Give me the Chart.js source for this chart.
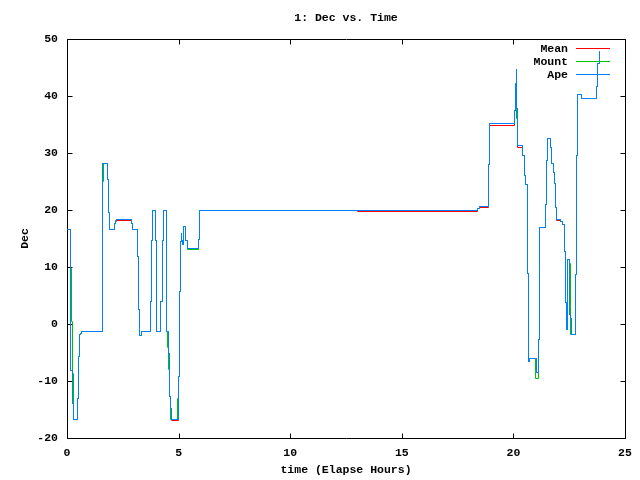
<!DOCTYPE html>
<html>
<head>
<meta charset="utf-8">
<script src="https://cdn.jsdelivr.net/npm/chart.js@4/dist/chart.umd.min.js"></script>
<style>
  html, body { margin: 0; padding: 0; background: #ffffff; }
  #c { display: block; }
</style>
</head>
<body>
<canvas id="c" width="640" height="480"></canvas>
<script>
// ---- Data (time in elapsed hours, value = new Dec after the step) ----
const chartTitle = "1: Dec vs. Time";
const xAxisLabel = "time (Elapse Hours)";
const yAxisLabel = "Dec";
const seriesNames = ["Mean", "Mount", "Ape"];
const xTicks = [0, 5, 10, 15, 20, 25];
const yTicks = [-20, -10, 0, 10, 20, 30, 40, 50];

const meanTime = [0, 0.165, 0.26, 0.3, 0.47, 0.52, 0.56, 0.6, 0.64, 1.6, 1.82, 1.87, 1.91, 2.13, 2.17, 2.2, 2.88, 2.93, 3.15, 3.2, 3.25, 3.32, 3.72, 3.78, 3.82, 3.97, 4.02, 4.2, 4.27, 4.32, 4.44, 4.46, 4.54, 4.57, 4.61, 4.64, 4.69, 4.99, 5.03, 5.08, 5.11, 5.14, 5.17, 5.23, 5.31, 5.38, 5.89, 5.95, 13.0, 18.4, 18.5, 18.88, 18.95, 20.06, 20.09, 20.12, 20.15, 20.17, 20.43, 20.48, 20.52, 20.63, 20.67, 20.71, 21.04, 21.12, 21.16, 21.19, 21.43, 21.48, 21.52, 21.68, 21.72, 21.78, 21.84, 21.88, 21.91, 22.09, 22.18, 22.3, 22.34, 22.39, 22.42, 22.5, 22.53, 22.58, 22.62, 22.79, 22.82, 22.86, 23.03, 23.73, 23.77, 23.85];
const meanDec = [16.6, -8.1, -13.9, -16.8, -13, -5.7, -1.9, -1.6, -1.35, 28.2, 25.3, 19.5, 16.6, 17.7, 17.9, 18.15, 17.7, 16.6, 11.9, 2.6, -2, -1.3, 3.9, 14.7, 20, 14.7, -1.3, 3.9, 14.7, 20, 9.3, -1.35, -5.1, -10.4, -12.75, -14.8, -16.9, -9.2, 5.7, 14.4, 15.8, 14.6, 13.9, 17.1, 14.7, 13.3, 14.9, 20, 19.75, 20.3, 20.45, 27.9, 34.75, 37.5, 42.2, 44.7, 37.8, 31.0, 29.6, 26.1, 24.4, 8.9, -6.6, -6.1, -8.5, -2.8, 10.35, 17, 20.9, 28.6, 32.6, 31, 28.1, 26.6, 24.6, 20.5, 18.15, 18, 17.5, 12.7, 3.7, -1, 11.35, 6, 1.6, 1, -1.8, 8.6, 29.6, 40.2, 39.6, 41.6, 45.7, 47.8];

const mountTime = [0, 0.15, 0.2, 0.26, 0.27, 0.46, 0.51, 0.55, 0.6, 0.64, 1.57, 1.6, 1.63, 1.82, 1.87, 1.91, 2.13, 2.17, 2.2, 2.88, 2.93, 3.15, 3.2, 3.25, 3.32, 3.72, 3.78, 3.82, 3.97, 4.02, 4.2, 4.27, 4.32, 4.44, 4.46, 4.52, 4.56, 4.6, 4.63, 4.97, 4.99, 5.03, 5.065, 5.11, 5.14, 5.17, 5.23, 5.31, 5.38, 5.89, 5.95, 18.4, 18.5, 18.88, 18.95, 20.06, 20.09, 20.12, 20.14, 20.17, 20.43, 20.49, 20.54, 20.63, 20.67, 20.71, 20.99, 21.01, 21.12, 21.16, 21.19, 21.43, 21.48, 21.52, 21.68, 21.72, 21.78, 21.84, 21.88, 21.91, 22.09, 22.18, 22.3, 22.34, 22.39, 22.42, 22.5, 22.55, 22.58, 22.79, 22.82, 22.86, 23.03, 23.73, 23.77, 23.85];
const mountDec = [16.6, 9.8, 0.4, -8.6, -16.8, -13, -5.7, -1.9, -1.6, -1.35, 12, 25, 28.2, 25.3, 19.5, 16.6, 17.7, 18.1, 18.4, 17.7, 16.6, 11.9, 2.6, -2, -1.3, 3.9, 14.7, 20, 14.7, -1.3, 3.9, 14.7, 20, 9.3, -1.35, -4.2, -8, -12.75, -16.7, -13, -9.2, 5.7, 14.4, 15.8, 14.6, 13.9, 17.1, 14.7, 13.1, 14.9, 20, 20.3, 20.7, 27.9, 35.1, 37.5, 42.2, 44.7, 36, 31.3, 29.6, 26.1, 24.4, 8.9, -6.6, -6.1, -8.4, -9.5, -2.8, 10.35, 17, 20.9, 28.6, 32.6, 31, 28.1, 26.6, 24.6, 20.5, 18.4, 18, 17.5, 12.7, 3.7, -1, 11.35, 10.6, 3, -1.8, 8.6, 29.6, 40.2, 39.6, 41.6, 45.7, 47.8];

const apeTime = [0, 0.165, 0.24, 0.3, 0.46, 0.51, 0.55, 0.6, 0.64, 1.6, 1.82, 1.87, 1.91, 2.13, 2.17, 2.2, 2.88, 2.93, 3.15, 3.2, 3.25, 3.32, 3.72, 3.78, 3.82, 3.97, 4.02, 4.2, 4.27, 4.32, 4.44, 4.46, 4.54, 4.57, 4.61, 4.64, 4.69, 4.99, 5.03, 5.08, 5.11, 5.14, 5.17, 5.23, 5.31, 5.38, 5.89, 5.95, 18.4, 18.5, 18.88, 18.95, 20.06, 20.09, 20.12, 20.15, 20.17, 20.43, 20.48, 20.52, 20.63, 20.67, 20.71, 21.04, 21.12, 21.16, 21.19, 21.43, 21.48, 21.52, 21.68, 21.72, 21.78, 21.84, 21.88, 21.91, 22.09, 22.18, 22.3, 22.34, 22.39, 22.42, 22.5, 22.53, 22.58, 22.62, 22.79, 22.82, 22.86, 23.03, 23.73, 23.77, 23.85];
const apeDec = [16.6, -8.1, -13.9, -16.8, -13, -5.7, -1.9, -1.6, -1.35, 28.2, 25.3, 19.5, 16.6, 17.7, 18.1, 18.4, 17.7, 16.6, 11.9, 2.6, -2, -1.3, 3.9, 14.7, 20, 14.7, -1.3, 3.9, 14.7, 20, 9.3, -1.35, -5.1, -10.4, -12.75, -14.8, -16.7, -9.2, 5.7, 14.4, 15.8, 14.6, 13.9, 17.1, 14.7, 13.3, 14.9, 20, 20.3, 20.7, 27.9, 35.1, 37.5, 42.2, 44.7, 37.8, 31.3, 29.6, 26.1, 24.4, 8.9, -6.6, -6.1, -8.5, -2.8, 10.35, 17, 20.9, 28.6, 32.6, 31, 28.1, 26.6, 24.6, 20.5, 18.4, 18, 17.5, 12.7, 3.7, -1, 11.35, 6, 1.6, 1, -1.8, 8.6, 29.6, 40.2, 39.6, 41.6, 45.7, 47.8];

const seriesColors = ["#ff0000", "#00c000", "#0080ff"];

// ---- Build ----
function zip(ts, vs) { return ts.map((t, i) => ({ x: t, y: vs[i] })); }

const FONT = { family: "'Liberation Mono', 'DejaVu Sans Mono', monospace", size: 11.5, weight: 'bold' };
Chart.defaults.font = { ...Chart.defaults.font, ...FONT };
Chart.defaults.color = '#000000';

// snap the library-computed point positions to pixel centres so the
// 1px step lines are crisp (like the gnuplot png output)
const pixelSnap = {
  id: 'pixelSnap',
  afterDatasetsUpdate(chart) {
    chart.getSortedVisibleDatasetMetas().forEach(meta => {
      meta.data.forEach(pt => {
        pt.x = Math.floor(pt.x) + 0.5;
        pt.y = Math.floor(pt.y) + 0.5;
      });
      if (meta.dataset) meta.dataset._path = undefined;
    });
  }
};

const gnuplotFrame = {
  id: 'gnuplotFrame',
  beforeDatasetsDraw(chart) {
    const { ctx, chartArea: a, scales: { x, y } } = chart;
    ctx.save();
    ctx.strokeStyle = '#000000';
    ctx.lineWidth = 1;
    const L = Math.round(a.left) + 0.5, R = Math.round(a.right) + 0.5;
    const T = Math.round(a.top) + 0.5, B = Math.round(a.bottom) + 0.5;
    ctx.beginPath();
    ctx.rect(L, T, R - L, B - T);
    const tl = 5;
    xTicks.forEach(v => {
      const px = Math.round(x.getPixelForValue(v)) + 0.5;
      ctx.moveTo(px, B); ctx.lineTo(px, B - tl);
      ctx.moveTo(px, T); ctx.lineTo(px, T + tl);
    });
    yTicks.forEach(v => {
      const py = Math.round(y.getPixelForValue(v)) + 0.5;
      ctx.moveTo(L, py); ctx.lineTo(L + tl, py);
      ctx.moveTo(R, py); ctx.lineTo(R - tl, py);
    });
    ctx.stroke();

    // legend (gnuplot style: text right-aligned, sample line to the right)
    ctx.font = `${FONT.weight} ${FONT.size}px ${FONT.family}`;
    ctx.textAlign = 'right';
    ctx.textBaseline = 'middle';
    chart.data.datasets.forEach((ds, i) => {
      const yy = 49 + 13 * i;
      ctx.fillStyle = '#000000';
      ctx.fillText(ds.label, 568, yy);
      ctx.strokeStyle = ds.borderColor;
      ctx.beginPath();
      ctx.moveTo(576, yy - 0.5);
      ctx.lineTo(610, yy - 0.5);
      ctx.stroke();
    });
    ctx.restore();
  },
  afterDraw(chart) {
    const { ctx, chartArea: a } = chart;
    ctx.save();
    ctx.font = `${FONT.weight} ${FONT.size}px ${FONT.family}`;
    ctx.fillStyle = '#000000';
    ctx.textAlign = 'center';
    ctx.textBaseline = 'middle';
    ctx.fillText(chartTitle, (a.left + a.right) / 2, 18);
    ctx.restore();
  }
};

new Chart(document.getElementById('c'), {
  type: 'line',
  data: {
    datasets: [
      { label: seriesNames[0], data: zip(meanTime, meanDec), borderColor: seriesColors[0], order: 2 },
      { label: seriesNames[1], data: zip(mountTime, mountDec), borderColor: seriesColors[1], order: 1 },
      { label: seriesNames[2], data: zip(apeTime, apeDec), borderColor: seriesColors[2], order: 0 }
    ]
  },
  options: {
    responsive: false,
    animation: false,
    devicePixelRatio: 1,
    layout: { padding: { top: 39, right: 15, left: 0, bottom: 0 } },
    elements: {
      line: { borderWidth: 1, stepped: 'before', tension: 0, fill: false },
      point: { radius: 0, hoverRadius: 0 }
    },
    plugins: { legend: { display: false }, tooltip: { enabled: false }, title: { display: false } },
    scales: {
      x: {
        type: 'linear', min: 0, max: 25,
        afterBuildTicks: s => { s.ticks = xTicks.map(v => ({ value: v })); },
        ticks: { padding: 8, color: '#000000', maxRotation: 0 },
        grid: { display: false, drawTicks: false },
        border: { display: false },
        title: { display: true, text: xAxisLabel, color: '#000000', padding: { top: 0, bottom: 3 } },
        afterFit: s => { s.height = 42; }
      },
      y: {
        type: 'linear', min: -20, max: 50,
        afterBuildTicks: s => { s.ticks = yTicks.map(v => ({ value: v })); },
        ticks: { padding: 9, color: '#000000' },
        grid: { display: false, drawTicks: false },
        border: { display: false },
        title: { display: true, text: yAxisLabel, color: '#000000', padding: { top: 18, bottom: 0 } },
        afterFit: s => { s.width = 67; }
      }
    }
  },
  plugins: [pixelSnap, gnuplotFrame]
});
</script>
</body>
</html>
